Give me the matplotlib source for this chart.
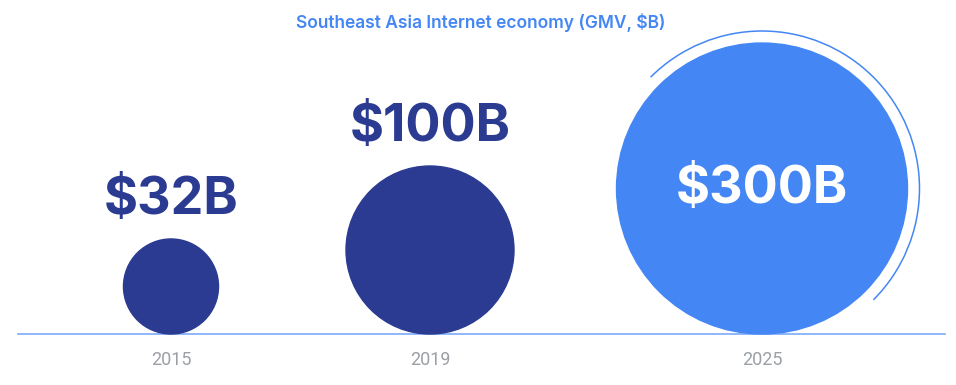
import matplotlib.pyplot as plt
from matplotlib.patches import Circle, Arc
import numpy as np

years = ['2015', '2019', '2025']
gmv = [32, 100, 300]
labels = ['$32B', '$100B', '$300B']
colors = ['#2b3b91', '#2b3b91', '#4487f4']

x_pos = [171, 430, 762]
baseline = 334
scale = 8.4  # px radius per sqrt($B)

fig = plt.figure(figsize=(9.56, 3.85), dpi=100)
ax = fig.add_axes([0, 0, 1, 1])
ax.set_xlim(0, 956)
ax.set_ylim(385, 0)
ax.set_aspect('equal')
ax.axis('off')

ax.plot([18, 945], [baseline, baseline], color='#7baaf7', lw=1.2, zorder=1)

for i, (yr, v, lab, c) in enumerate(zip(years, gmv, labels, colors)):
    r = scale * np.sqrt(v)
    cx, cy = x_pos[i], baseline - r
    ax.add_patch(Circle((cx, cy), r, color=c, zorder=2))
    if i == len(gmv) - 1:
        ax.add_patch(Arc((cx, cy), 2 * (r + 12), 2 * (r + 12), theta1=-135, theta2=45,
                         color='#4487f4', lw=1.1, zorder=2))
        ax.text(cx, cy + 1, lab, ha='center', va='center', color='white',
                fontsize=37.5, fontweight='bold', family='Inter', zorder=3)
    else:
        ax.text(cx, cy - r - 38, lab, ha='center', va='center', color=c,
                fontsize=37.5, fontweight='bold', family='Inter', zorder=3)
    ax.text(cx, 360, yr, ha='center', va='center', color='#9aa0a6',
            fontsize=13, family='Roboto')

ax.text(481, 22, 'Southeast Asia Internet economy (GMV, $B)', ha='center', va='center',
        color='#4487f4', fontsize=12.5, fontweight='semibold', family='Inter')

plt.savefig('out.png', dpi=100)
